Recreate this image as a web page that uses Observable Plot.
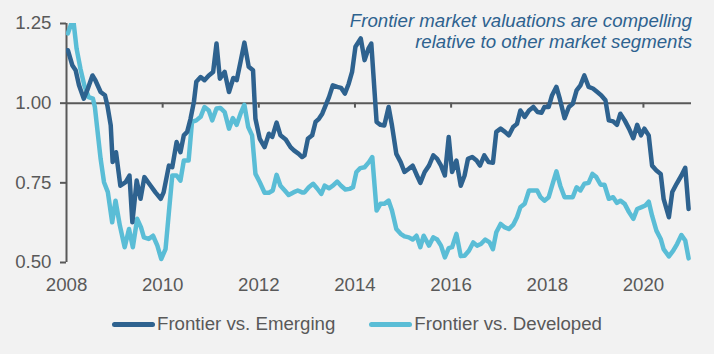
<!DOCTYPE html>
<html><head><meta charset="utf-8">
<script src="https://cdn.jsdelivr.net/npm/d3@7"></script>
<script src="https://cdn.jsdelivr.net/npm/@observablehq/plot@0.6"></script>
<style>
html,body{margin:0;padding:0;background:#f2f2f2;}
#wrap{position:relative;width:714px;height:354px;font-family:"Liberation Sans",Arial,sans-serif;}
#note{position:absolute;right:22px;top:10px;font-style:italic;font-size:18.67px;line-height:21px;color:#2E628F;text-align:right;}
#legend{position:absolute;left:0;top:313px;width:714px;display:flex;justify-content:center;align-items:center;font-size:18.67px;color:#595959;}
.item{display:flex;align-items:center;}
.item + .item{margin-left:34px;}
.sw{width:43px;height:5px;border-radius:3px;margin-right:2px;}
</style></head>
<body>
<div id="wrap">
  <div id="chart"></div>
  <div id="note"></div>
  <div id="legend"></div>
</div>
<script>
const seriesNames = ["Frontier vs. Emerging", "Frontier vs. Developed"];
const seriesColors = ["#2E628F", "#5ABDD6"];
const xTicks = [2008, 2010, 2012, 2014, 2016, 2018, 2020];
const yTicks = [0.50, 0.75, 1.00, 1.25];
const annotation = ["Frontier market valuations are compelling", "relative to other market segments"];

const emergingDates = [2008.03,2008.12,2008.19,2008.26,2008.36,2008.43,2008.54,2008.60,2008.71,2008.80,2008.85,2008.92,2008.96,2009.03,2009.12,2009.23,2009.31,2009.37,2009.46,2009.54,2009.62,2009.75,2009.85,2009.96,2010.02,2010.13,2010.20,2010.29,2010.37,2010.44,2010.51,2010.58,2010.65,2010.70,2010.79,2010.87,2010.96,2011.05,2011.12,2011.19,2011.29,2011.38,2011.47,2011.54,2011.62,2011.70,2011.79,2011.88,2011.93,2012.02,2012.12,2012.21,2012.28,2012.37,2012.45,2012.56,2012.66,2012.73,2012.83,2012.90,2012.95,2013.02,2013.11,2013.18,2013.25,2013.32,2013.39,2013.46,2013.54,2013.63,2013.71,2013.79,2013.87,2013.94,2014.01,2014.12,2014.20,2014.28,2014.34,2014.45,2014.53,2014.61,2014.70,2014.77,2014.86,2014.95,2015.03,2015.12,2015.20,2015.29,2015.36,2015.45,2015.54,2015.63,2015.71,2015.79,2015.87,2015.95,2016.02,2016.11,2016.20,2016.28,2016.35,2016.44,2016.53,2016.60,2016.69,2016.78,2016.87,2016.94,2017.03,2017.12,2017.20,2017.29,2017.37,2017.44,2017.53,2017.62,2017.71,2017.80,2017.88,2017.94,2018.03,2018.10,2018.19,2018.26,2018.36,2018.45,2018.53,2018.61,2018.69,2018.77,2018.86,2018.95,2019.04,2019.12,2019.21,2019.28,2019.37,2019.45,2019.52,2019.61,2019.70,2019.79,2019.87,2019.95,2020.02,2020.11,2020.18,2020.27,2020.36,2020.42,2020.53,2020.60,2020.69,2020.79,2020.87,2020.94];
const emergingValues = [1.166,1.119,1.103,1.056,1.014,1.040,1.087,1.072,1.035,1.025,0.993,0.930,0.815,0.846,0.741,0.752,0.773,0.626,0.757,0.700,0.768,0.741,0.720,0.700,0.720,0.804,0.799,0.878,0.846,0.899,0.910,0.951,1.004,1.067,1.082,1.072,1.087,1.098,1.187,1.077,1.098,1.035,1.079,1.072,1.130,1.190,1.114,1.103,0.951,0.888,0.862,0.904,0.894,0.939,0.899,0.886,0.862,0.852,0.841,0.831,0.836,0.888,0.899,0.941,0.951,0.967,0.993,1.019,1.056,1.051,1.048,1.030,1.061,1.098,1.177,1.203,1.135,1.171,1.187,0.941,0.932,0.930,0.988,0.930,0.841,0.815,0.784,0.794,0.804,0.773,0.750,0.784,0.804,0.836,0.825,0.804,0.773,0.894,0.784,0.820,0.741,0.773,0.825,0.831,0.820,0.804,0.836,0.815,0.813,0.910,0.920,0.910,0.899,0.925,0.935,0.977,0.957,0.977,0.988,0.972,0.970,0.988,0.988,1.025,1.051,1.014,0.953,0.988,0.998,1.040,1.056,1.087,1.051,1.046,1.035,1.025,1.009,0.946,0.943,0.932,0.967,0.946,0.920,0.890,0.932,0.899,0.920,0.899,0.804,0.789,0.778,0.700,0.642,0.721,0.747,0.773,0.797,0.668];

const developedDates = [2008.03,2008.10,2008.15,2008.21,2008.29,2008.37,2008.46,2008.55,2008.59,2008.64,2008.71,2008.78,2008.86,2008.95,2009.02,2009.11,2009.21,2009.30,2009.38,2009.47,2009.55,2009.61,2009.71,2009.80,2009.89,2009.97,2010.06,2010.13,2010.20,2010.29,2010.37,2010.44,2010.54,2010.61,2010.70,2010.79,2010.87,2010.96,2011.03,2011.12,2011.20,2011.29,2011.38,2011.46,2011.54,2011.62,2011.70,2011.78,2011.86,2011.93,2012.02,2012.12,2012.21,2012.29,2012.37,2012.45,2012.54,2012.62,2012.72,2012.81,2012.90,2012.95,2013.04,2013.13,2013.21,2013.30,2013.37,2013.46,2013.54,2013.63,2013.71,2013.80,2013.89,2013.96,2014.03,2014.11,2014.20,2014.29,2014.36,2014.45,2014.53,2014.61,2014.70,2014.77,2014.86,2014.95,2015.03,2015.12,2015.20,2015.28,2015.36,2015.43,2015.54,2015.63,2015.71,2015.79,2015.87,2015.95,2016.02,2016.11,2016.20,2016.28,2016.37,2016.46,2016.54,2016.62,2016.71,2016.80,2016.87,2016.94,2017.03,2017.12,2017.20,2017.29,2017.37,2017.44,2017.53,2017.62,2017.71,2017.79,2017.86,2017.94,2018.03,2018.10,2018.19,2018.27,2018.36,2018.45,2018.53,2018.61,2018.69,2018.77,2018.86,2018.94,2019.02,2019.11,2019.19,2019.28,2019.37,2019.45,2019.52,2019.61,2019.70,2019.79,2019.87,2019.95,2020.04,2020.11,2020.18,2020.27,2020.36,2020.42,2020.53,2020.62,2020.70,2020.79,2020.87,2020.94];
const developedValues = [1.219,1.250,1.250,1.171,1.108,1.056,1.019,1.014,0.988,0.920,0.825,0.752,0.721,0.626,0.694,0.616,0.548,0.605,0.548,0.637,0.610,0.579,0.574,0.584,0.553,0.511,0.542,0.658,0.773,0.773,0.757,0.820,0.820,0.941,0.946,0.957,0.988,0.977,0.946,0.983,0.985,0.972,0.920,0.953,0.932,0.967,0.995,0.925,0.899,0.778,0.752,0.719,0.719,0.726,0.775,0.741,0.726,0.712,0.720,0.726,0.720,0.720,0.736,0.747,0.733,0.715,0.741,0.733,0.741,0.754,0.741,0.729,0.731,0.736,0.784,0.796,0.799,0.815,0.831,0.663,0.684,0.684,0.694,0.663,0.605,0.590,0.582,0.579,0.572,0.584,0.548,0.584,0.553,0.579,0.572,0.553,0.516,0.545,0.548,0.590,0.520,0.521,0.537,0.563,0.553,0.558,0.572,0.563,0.542,0.595,0.621,0.610,0.605,0.618,0.642,0.673,0.684,0.726,0.726,0.726,0.705,0.694,0.705,0.741,0.786,0.741,0.705,0.705,0.705,0.736,0.726,0.747,0.750,0.778,0.768,0.744,0.744,0.700,0.705,0.687,0.694,0.684,0.658,0.637,0.668,0.673,0.679,0.691,0.647,0.600,0.574,0.542,0.519,0.537,0.558,0.586,0.569,0.513];

const emerging = emergingDates.map((d, i) => ({date: d, value: emergingValues[i]}));
const developed = developedDates.map((d, i) => ({date: d, value: developedValues[i]}));

const axisColor = "#595959";

const chart = Plot.plot({
  width: 714,
  height: 354,
  marginTop: 23,
  marginBottom: 92,
  marginLeft: 66,
  marginRight: 23,
  style: {background: "transparent", fontFamily: "'Liberation Sans', Arial, sans-serif", fontSize: "18.67px", color: axisColor},
  x: {type: "linear", domain: [2008, 2021]},
  y: {domain: [0.5, 1.25]},
  marks: [
    Plot.axisY({ticks: yTicks, tickFormat: d3.format(".2f"), tickSize: 6, tickPadding: 9, label: null, stroke: axisColor, strokeWidth: 2, strokeOpacity: 1, fill: axisColor}),
    Plot.axisX({ticks: xTicks, tickFormat: d => String(d), tickSize: 0, tickPadding: 15, label: null, fill: axisColor}),
    Plot.ruleX([xTicks[0]], {stroke: axisColor, strokeWidth: 2}),
    Plot.ruleY([1], {stroke: axisColor, strokeWidth: 2}),
    Plot.ruleX(xTicks.slice(1), {x: d => d, y1: 1, y2: 1, insetBottom: -5, stroke: axisColor, strokeWidth: 2}),
    Plot.line(developed, {x: "date", y: "value", stroke: seriesColors[1], strokeWidth: 4.5, clip: true}),
    Plot.line(emerging, {x: "date", y: "value", stroke: seriesColors[0], strokeWidth: 4.5, clip: true})
  ]
});
document.getElementById("chart").appendChild(chart);

document.getElementById("note").innerHTML = annotation.join("<br>");

const legend = document.getElementById("legend");
seriesNames.forEach((name, i) => {
  const item = document.createElement("div");
  item.className = "item";
  const sw = document.createElement("span");
  sw.className = "sw";
  sw.style.background = seriesColors[i];
  const label = document.createElement("span");
  label.textContent = name;
  item.appendChild(sw);
  item.appendChild(label);
  legend.appendChild(item);
});
</script>
</body></html>
